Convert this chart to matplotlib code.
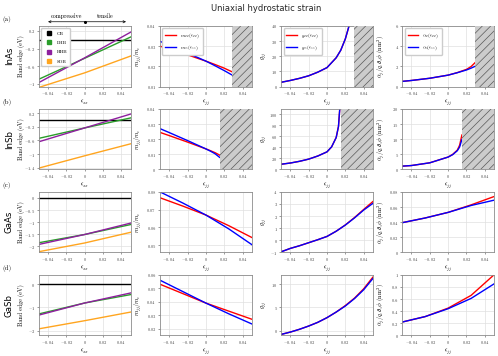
import matplotlib
matplotlib.use("Agg")
import matplotlib.pyplot as plt
from matplotlib.ticker import FuncFormatter, FixedLocator
from matplotlib.lines import Line2D

plt.rcParams['font.family'] = ['cmr10']
plt.rcParams['mathtext.fontset'] = 'cm'
plt.rcParams['axes.formatter.use_mathtext'] = True
plt.rcParams['axes.unicode_minus'] = False
plt.rcParams['hatch.linewidth'] = 0.5

materials = ["InAs", "InSb", "GaAs", "GaSb"]
panel_tags = ["(a)", "(b)", "(c)", "(d)"]

# ---- band edges (eV) vs strain ----
x_band = [-0.05, 0.0, 0.05]
band_CB = {"InAs": [0, 0, 0], "InSb": [0, 0, 0], "GaAs": [0, 0, 0], "GaSb": [0, 0, 0]}
band_LHB = {"InAs": [-0.895, -0.42, 0.06], "InSb": [-0.54, -0.235, 0.057],
            "GaAs": [-1.85, -1.51, -1.10], "GaSb": [-1.28, -0.81, -0.45]}
band_HHB = {"InAs": [-0.97, -0.41, 0.17], "InSb": [-0.64, -0.235, 0.17],
            "GaAs": [-1.92, -1.51, -1.04], "GaSb": [-1.33, -0.81, -0.38]}
band_SOB = {"InAs": [-1.08, -0.75, -0.37], "InSb": [-1.41, -1.05, -0.70],
            "GaAs": [-2.22, -1.86, -1.42], "GaSb": [-1.92, -1.57, -1.20]}

# ---- effective mass ----
x_mass = {"InAs": [-0.05, -0.04, -0.02, 0.0, 0.01, 0.02, 0.029],
          "InSb": [-0.05, -0.04, -0.02, 0.0, 0.005, 0.01, 0.015],
          "GaAs": [-0.05, -0.025, 0.0, 0.025, 0.05],
          "GaSb": [-0.05, -0.025, 0.0, 0.025, 0.05]}
mass_xx = {"InAs": [0.0300, 0.0286, 0.0257, 0.0226, 0.0209, 0.0191, 0.0172],
           "InSb": [0.0245, 0.0224, 0.0181, 0.0136, 0.0124, 0.0111, 0.0095],
           "GaAs": [0.0767, 0.0720, 0.0670, 0.0610, 0.0544],
           "GaSb": [0.053, 0.046, 0.039, 0.033, 0.027]}
mass_zz = {"InAs": [0.0324, 0.0305, 0.0266, 0.0226, 0.0203, 0.0179, 0.0156],
           "InSb": [0.0270, 0.0244, 0.0191, 0.0136, 0.0121, 0.0104, 0.0080],
           "GaAs": [0.0800, 0.0737, 0.0670, 0.0592, 0.0504],
           "GaSb": [0.056, 0.0475, 0.039, 0.031, 0.0235]}

# ---- g factor ----
x_g = {"InAs": [-0.05, -0.04, -0.03, -0.02, -0.01, 0.0, 0.01, 0.015, 0.02, 0.024, 0.027],
       "InSb": [-0.05, -0.04, -0.03, -0.02, -0.01, 0.0, 0.005, 0.01, 0.0125, 0.014],
       "GaAs": [-0.05, -0.04, -0.03, -0.02, -0.01, 0.0, 0.01, 0.02, 0.03, 0.04, 0.05],
       "GaSb": [-0.05, -0.04, -0.03, -0.02, -0.01, 0.0, 0.01, 0.02, 0.03, 0.04, 0.05]}
g_xx = {"InAs": [2.8, 4.0, 5.4, 7.1, 9.5, 12.5, 19.0, 24.0, 31.5, 40.0, 48.0],
        "InSb": [9.5, 11.7, 14.8, 18.8, 24.5, 32.0, 41.0, 58.0, 78.0, 112.0],
        "GaAs": [-0.95, -0.67, -0.45, -0.2, 0.05, 0.32, 0.75, 1.27, 1.88, 2.55, 3.2],
        "GaSb": [-0.8, -0.3, 0.3, 1.0, 1.8, 2.8, 4.0, 5.4, 7.0, 9.0, 11.5]}
g_zz = {"InAs": [2.8, 4.0, 5.4, 7.1, 9.5, 12.5, 19.0, 24.0, 31.5, 40.0, 48.0],
        "InSb": [9.5, 11.7, 14.8, 18.8, 24.5, 32.0, 41.0, 58.0, 78.0, 112.0],
        "GaAs": [-0.95, -0.67, -0.45, -0.2, 0.05, 0.32, 0.75, 1.26, 1.85, 2.5, 3.05],
        "GaSb": [-0.8, -0.3, 0.3, 1.0, 1.8, 2.8, 4.0, 5.3, 6.9, 8.8, 11.2]}

# ---- Rashba coefficient ----
x_a = {"InAs": [-0.05, -0.04, -0.02, 0.0, 0.01, 0.02, 0.025, 0.03],
       "InSb": [-0.05, -0.04, -0.02, 0.0, 0.005, 0.01, 0.0125, 0.015],
       "GaAs": [-0.05, -0.025, 0.0, 0.025, 0.05],
       "GaSb": [-0.05, -0.025, 0.0, 0.025, 0.05]}
alpha_x = {"InAs": [0.51, 0.60, 0.82, 1.13, 1.38, 1.70, 1.98, 2.42],
           "InSb": [1.1, 1.3, 2.2, 4.1, 5.0, 6.4, 8.0, 11.4],
           "GaAs": [0.0393, 0.0455, 0.0529, 0.0628, 0.0738],
           "GaSb": [0.22, 0.31, 0.45, 0.66, 1.0]}
alpha_z = {"InAs": [0.51, 0.60, 0.82, 1.13, 1.37, 1.64, 1.82, 2.03],
           "InSb": [1.1, 1.3, 2.2, 4.1, 4.9, 6.2, 7.4, 9.9],
           "GaAs": [0.0393, 0.0455, 0.0529, 0.0620, 0.0690],
           "GaSb": [0.22, 0.31, 0.44, 0.61, 0.85]}

# semimetal (hatched) region start
hatch_start = {"InAs": 0.029, "InSb": 0.015}

# axis settings
ylims = {
    "InAs": [(-1.06, 0.31), (0.01, 0.04), (0, 40), (0, 6)],
    "InSb": [(-1.45, 0.32), (0.0, 0.04), (0, 110), (0, 20)],
    "GaAs": [(-2.25, 0.25), (0.046, 0.08), (-1, 4), (0, 0.08)],
    "GaSb": [(-2.2, 0.4), (0.015, 0.06), (-1, 12), (0, 1.0)],
}
yticks = {
    "InAs": [[0.2, -0.2, -0.6, -1.0], [0.01, 0.02, 0.03, 0.04], [0, 10, 20, 30, 40], [0, 2, 4, 6]],
    "InSb": [[0.2, -0.2, -0.6, -1.0, -1.4], [0, 0.01, 0.02, 0.03, 0.04], [0, 20, 40, 60, 80, 100], [0, 5, 10, 15, 20]],
    "GaAs": [[0, -0.5, -1, -1.5, -2], [0.05, 0.06, 0.07, 0.08], [-1, 0, 1, 2, 3, 4], [0, 0.02, 0.04, 0.06, 0.08]],
    "GaSb": [[0, -1, -2], [0.02, 0.03, 0.04, 0.05, 0.06], [0, 5, 10], [0, 0.2, 0.4, 0.6, 0.8, 1.0]],
}
xticks = [-0.04, -0.02, 0, 0.02, 0.04]

col_green = '#2a9d2a'
col_purple = '#8e1f9e'
col_orange = '#ffa51f'

fig, axes = plt.subplots(4, 4, figsize=(4.98, 3.56), dpi=100)
fig.subplots_adjust(left=0.078, right=0.992, top=0.927, bottom=0.058, wspace=0.32, hspace=0.37)

fmt = FuncFormatter(lambda v, p: r"$%g$" % round(v, 6))
tick_fs = 3.3
lab_fs = 4.4
lw = 1.0

ylabels = ["Band edge (eV)", r"$m_{jj}/m_e$", r"$g_{jj}$", r"$\alpha_j/q_e\partial_z\phi$ (nm$^2$)"]
xlabels = [r"$\epsilon_{xx}$", r"$\epsilon_{jj}$", r"$\epsilon_{jj}$", r"$\epsilon_{jj}$"]
ylabel_x = [-0.155, -0.17, -0.13, -0.17]

for r, mat in enumerate(materials):
    for c in range(4):
        ax = axes[r, c]
        if c == 0:
            ax.plot(x_band, band_CB[mat], color='black', lw=lw, label='CB')
            ax.plot(x_band, band_LHB[mat], color=col_green, lw=lw, label='LHB')
            ax.plot(x_band, band_HHB[mat], color=col_purple, lw=lw, label='HHB')
            ax.plot(x_band, band_SOB[mat], color=col_orange, lw=lw, label='SOB')
        elif c == 1:
            ax.plot(x_mass[mat], mass_xx[mat], color='red', lw=lw, label=r"$m_{xx}(\epsilon_{xx})$")
            ax.plot(x_mass[mat], mass_zz[mat], color='blue', lw=lw, label=r"$m_{zz}(\epsilon_{zz})$")
        elif c == 2:
            ax.plot(x_g[mat], g_xx[mat], color='red', lw=lw, label=r"$g_{xx}(\epsilon_{xx})$")
            ax.plot(x_g[mat], g_zz[mat], color='blue', lw=lw, label=r"$g_{zz}(\epsilon_{zz})$")
        else:
            ax.plot(x_a[mat], alpha_x[mat], color='red', lw=lw, label=r"$\alpha_x(\epsilon_{xx})$")
            ax.plot(x_a[mat], alpha_z[mat], color='blue', lw=lw, label=r"$\alpha_z(\epsilon_{zz})$")

        if c > 0 and mat in hatch_start:
            ax.axvspan(hatch_start[mat], 0.05, facecolor=(0.8, 0.8, 0.8), edgecolor='0.35',
                       hatch='////', lw=0, zorder=3)

        ax.set_xlim(-0.05, 0.05)
        ax.set_ylim(*ylims[mat][c])
        ax.xaxis.set_major_locator(FixedLocator(xticks))
        ax.yaxis.set_major_locator(FixedLocator(yticks[mat][c]))
        ax.xaxis.set_major_formatter(fmt)
        ax.yaxis.set_major_formatter(fmt)
        ax.tick_params(labelsize=tick_fs, length=1.5, width=0.4, pad=1.0, colors='0.3')
        ax.grid(True, color='0.88', lw=0.5)
        ax.set_axisbelow(True)
        for s in ax.spines.values():
            s.set_color('0.55')
            s.set_linewidth(0.6)
        ax.set_xlabel(xlabels[c], fontsize=lab_fs, labelpad=0.5)
        ax.set_ylabel(ylabels[c], fontsize=lab_fs)
        ax.yaxis.set_label_coords(ylabel_x[c], 0.5)

        if r == 0:
            if c == 0:
                handles = [Line2D([], [], marker='s', ls='none', color=cc, markersize=2.2)
                           for cc in ['black', col_green, col_purple, col_orange]]
                ax.legend(handles, ['CB', 'LHB', 'HHB', 'SOB'], loc='upper left', fontsize=3.5,
                          handletextpad=0.6, borderpad=0.6, labelspacing=1.0, framealpha=1,
                          edgecolor='0.8', fancybox=True)
            else:
                leg = ax.legend(loc='upper left', fontsize=3.5, handlelength=2.2, borderpad=0.6,
                                labelspacing=0.6, framealpha=1, edgecolor='0.8')
                leg.set_zorder(5)

    # row labels
    pos = axes[r, 0].get_position()
    yc = (pos.y0 + pos.y1) / 2
    fig.text(0.019, yc, mat, rotation=90, ha='center', va='center', fontsize=6.2, family='DejaVu Sans')
    fig.text(0.013, pos.y1 + 0.008, panel_tags[r], ha='center', va='bottom', fontsize=5)

# compressive / tensile arrows
ax0 = axes[0, 0]
tr = ax0.get_xaxis_transform()
ax0.annotate('', xy=(-0.04, 1.07), xytext=(0, 1.07), xycoords=tr, textcoords=tr,
             arrowprops=dict(arrowstyle='->', lw=0.5, color='black', shrinkA=0, shrinkB=0,
                             mutation_scale=4))
ax0.annotate('', xy=(0.045, 1.07), xytext=(0, 1.07), xycoords=tr, textcoords=tr,
             arrowprops=dict(arrowstyle='->', lw=0.5, color='black', shrinkA=0, shrinkB=0,
                             mutation_scale=4))
ax0.plot([0], [1.07], marker='o', markersize=1.2, color='black', transform=tr, clip_on=False)
ax0.text(-0.02, 1.12, 'compressive', transform=tr, ha='center', va='bottom', fontsize=4.4)
ax0.text(0.022, 1.12, 'tensile', transform=tr, ha='center', va='bottom', fontsize=4.4)

fig.text(0.535, 0.99, 'Uniaxial hydrostatic strain', ha='center', va='top', fontsize=6,
         family='DejaVu Sans', color='0.15')

fig.savefig('out.png', dpi=100)
